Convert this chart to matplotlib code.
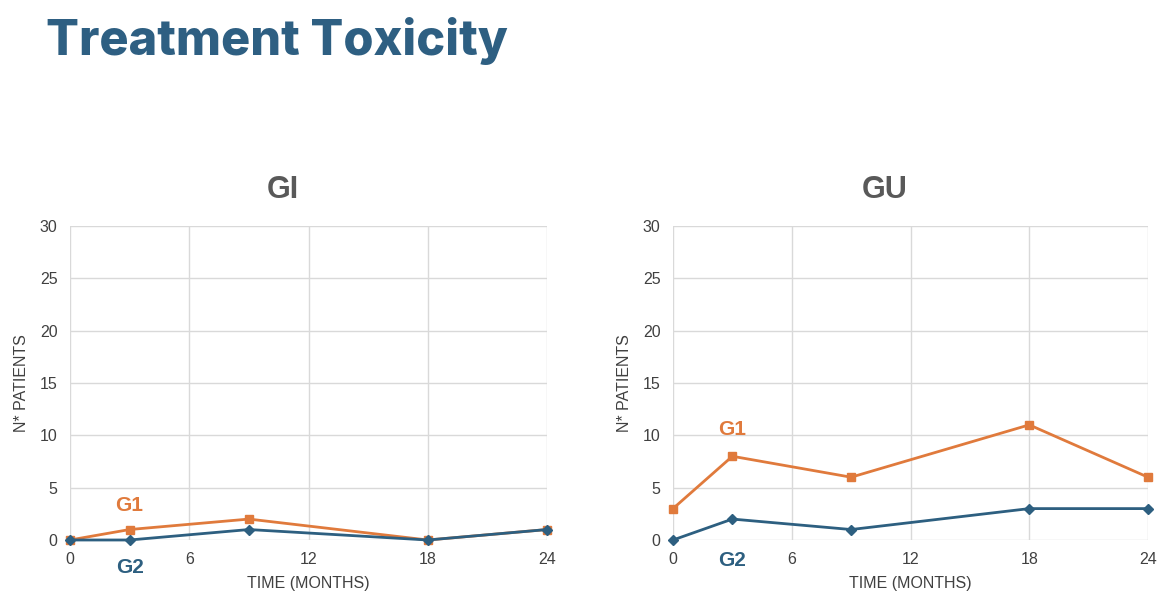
import matplotlib
matplotlib.use("Agg")
import matplotlib.pyplot as plt

months = [0, 3, 9, 18, 24]
gi_g1 = [0, 1, 2, 0, 1]
gi_g2 = [0, 0, 1, 0, 1]
gu_g1 = [3, 8, 6, 11, 6]
gu_g2 = [0, 2, 1, 3, 3]
x_ticks = [0, 6, 12, 18, 24]
y_ticks = [0, 5, 10, 15, 20, 25, 30]

ORANGE = "#E07A3C"
BLUE = "#2D5F80"
TITLE_BLUE = "#2E5F82"
GRAY_TXT = "#404040"
GRID = "#D9D9D9"

plt.rcParams['font.family'] = ['Liberation Sans', 'DejaVu Sans']

fig = plt.figure(figsize=(11.76, 6.06), dpi=100)
fig.text(46/1176, 1 - 41/606, "Treatment Toxicity", fontsize=35, fontweight='heavy',
         family=['Inter', 'DejaVu Sans'], color=TITLE_BLUE, va='center', ha='left')

panels = [
    (70, 547, "GI", gi_g1, gi_g2, (3, 3.3), (3, -2.6)),
    (673, 1148, "GU", gu_g1, gu_g2, (3, 10.6), (3, -2.0)),
]
top_px, bot_px = 226, 540
for x0, x1, title, g1, g2, g1pos, g2pos in panels:
    ax = fig.add_axes([x0/1176, 1 - bot_px/606, (x1 - x0)/1176, (bot_px - top_px)/606])
    ax.set_xlim(0, 24)
    ax.set_ylim(0, 30)
    ax.set_xticks(x_ticks)
    ax.set_yticks(y_ticks)
    ax.grid(True, color=GRID, linewidth=1)
    ax.set_axisbelow(True)
    for s in ax.spines.values():
        s.set_visible(False)
    ax.tick_params(length=0, labelsize=11.5, labelcolor=GRAY_TXT, pad=9)
    ax.plot(months, g1, color=ORANGE, marker='s', markersize=6, linewidth=2, clip_on=False, zorder=3)
    ax.plot(months, g2, color=BLUE, marker='D', markersize=5, linewidth=2, clip_on=False, zorder=4)
    ax.set_xlabel("TIME (MONTHS)", fontsize=11.5, color=GRAY_TXT, labelpad=6)
    ax.set_ylabel("N* PATIENTS", fontsize=11.5, color=GRAY_TXT, labelpad=8)
    ax.set_title(title, fontsize=22, fontweight='bold', color="#595959", pad=20, x=0.446)
    ax.text(g1pos[0], g1pos[1], "G1", color=ORANGE, fontsize=15, fontweight='bold',
            ha='center', va='center', clip_on=False)
    ax.text(g2pos[0], g2pos[1], "G2", color=BLUE, fontsize=15, fontweight='bold',
            ha='center', va='center', clip_on=False)

fig.savefig("out.png", dpi=100, facecolor='white')
